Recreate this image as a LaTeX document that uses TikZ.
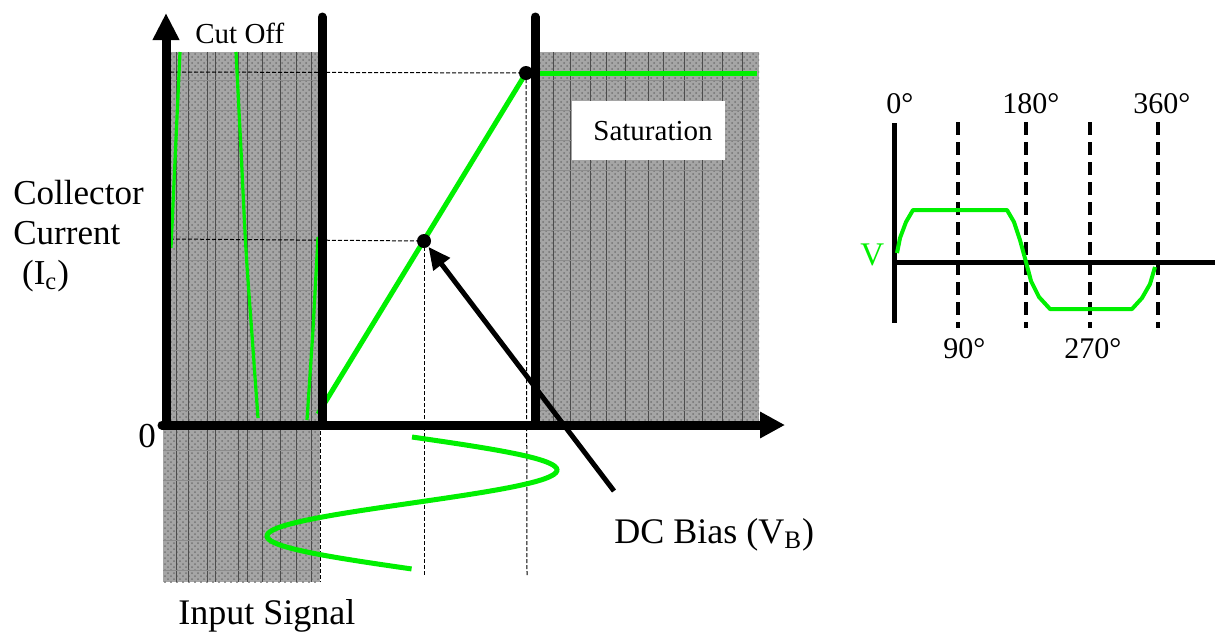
\documentclass[tikz,border=0pt]{standalone}
\usepackage{fontspec}
\setmainfont{Liberation Serif}
\usetikzlibrary{arrows.meta,patterns}
\definecolor{sig}{RGB}{0,240,0}
\definecolor{shade}{RGB}{165,165,165}
\begin{document}
\begin{tikzpicture}[x=0.5pt,y=-0.5pt,
  region/.style={fill=shade, draw=none},
  speckle/.style={pattern=crosshatch dots, pattern color=black!55},
  texture/.style={black!70, line width=0.25pt},
  hline/.style={black!45, line width=0.2pt},
  thick axis/.style={line width=4.5pt, line cap=round},
  guide/.style={line width=0.5pt, dash pattern=on 2pt off 1pt},
  greenline/.style={sig, line width=2.5pt},
  thin green/.style={sig, line width=1.6pt},
  dot/.style={circle, fill=black, inner sep=0pt, minimum size=7pt},
  lbl/.style={inner sep=0pt, anchor=base west, font=\fontsize{17.5pt}{20pt}\selectfont},
  vlbl/.style={inner sep=0pt, anchor=base west, font=\fontsize{16.5pt}{20pt}\selectfont},
  biglbl/.style={inner sep=0pt, anchor=base west, font=\fontsize{18pt}{22pt}\selectfont},
  boxlbl/.style={inner sep=0pt, anchor=base west, font=\fontsize{14.5pt}{17pt}\selectfont},
  deg/.style={inner sep=0pt, anchor=base west, font=\fontsize{15pt}{18pt}\selectfont},
  phase/.style={line width=2.25pt, dash pattern=on 6.5pt off 3.5pt},
  raxis/.style={line width=2.5pt}]
\useasboundingbox (0,0) rectangle (1215,633);
\fill[white] (0,0) rectangle (1215,633);

% shaded regions
\fill[region] (168,52) rectangle (320,425);
\fill[region] (163,425) rectangle (320,582);
\fill[region] (538,52) rectangle (759,425);
\fill[speckle] (168,52) rectangle (320,425);
\fill[speckle] (163,425) rectangle (320,582);
\fill[speckle] (538,52) rectangle (759,425);
\foreach \xx in {176,188,207,215,238,247,262,280,296,311} {\draw[texture] (\xx,52) -- (\xx,582);}
\foreach \xx in {553,570,590,606,625,648,663,684,702,722,742} {\draw[texture] (\xx,52) -- (\xx,425);}
\foreach \yy in {80,110,140,170,200,230,260,290,320,350,380,410} {\draw[hline] (168,\yy) -- (320,\yy); \draw[hline] (538,\yy) -- (759,\yy);}
\foreach \yy in {450,480,510,540,570} {\draw[hline] (163,\yy) -- (320,\yy);}

% saturation label box
\fill[white] (572,101) rectangle (725,160);
\node[boxlbl] (sat) at (593,140) {Saturation};
\node[boxlbl] (cutoff) at (195,43) {Cut Off};

% key points
\coordinate (origin) at (166,425);
\coordinate (ytip) at (166,13);
\coordinate (xtip) at (785,425);
\coordinate (xstart) at (162,425);
\coordinate (satpt) at (526,73);
\coordinate (bias) at (424,241);
\coordinate (hA) at (170,72);
\coordinate (hB) at (170,239);
\coordinate (vA) at (527,575);
\coordinate (vB) at (424,575);
\coordinate (vC0) at (320,425);
\coordinate (vC1) at (320,582);

% dashed guides
\draw[guide] (hA) -- (satpt);
\draw[guide] (hB) -- (bias);
\draw[guide] (satpt) -- (vA);
\draw[guide] (bias) -- (vB);
\draw[guide] (vC0) -- (vC1);

% green transfer characteristic
\coordinate (kneeLow) at (318,414);
\draw[greenline] (kneeLow) -- (satpt);
\coordinate (satEnd) at (757,73);
\draw[greenline] (satpt) -- (satEnd);
\coordinate (cutA) at (172,423);
\coordinate (cutB) at (313,423);
\draw[greenline] (cutA) -- (cutB);

% clipped output in cut-off region
\draw[thin green] (180,52) -- (171,248);
\draw[thin green] plot[smooth] coordinates {(236,52) (241,150) (246,250) (252,335) (258,418)};
\draw[thin green] (318,237) -- (313,330) -- (307,420);

% input signal
\draw[greenline] plot[domain=0:1, samples=90, smooth] ({412+145*sin(360*\x)}, {437+132*\x});

% axes and boundaries
\draw[thick axis] (322,17) -- (322,425);
\draw[thick axis] (535,17) -- (535,425);
\draw[line width=4.5pt, -{Triangle[length=13.5pt,width=12.5pt]}] (origin) -- (ytip);
\draw[line width=4.5pt, line cap=round, -{Triangle[length=12.5pt,width=12.5pt]}] (xstart) -- (xtip);

% operating points
\node[dot] (satdot) at (satpt) {};
\node[dot] (biasdot) at (bias) {};

% DC bias arrow
\coordinate (btail) at (614,491);
\draw[line width=2.5pt, -{Triangle[length=11pt,width=10pt]}] (btail) -- (biasdot);

% labels
\node[lbl, align=left, anchor=north west] (yl) at (13,180) {Collector\\Current\\~(I\textsubscript{c})};
\node[lbl] (zero) at (138,447) {0};
\node[biglbl] (dcb) at (614,543) {DC Bias (V\textsubscript{B})};
\node[biglbl] (inp) at (178,624) {Input Signal};

% right panel
\coordinate (rv0) at (894,123);
\coordinate (rv1) at (894,323);
\coordinate (rh0) at (894,262);
\coordinate (rh1) at (1215,262);
\foreach \xx in {958,1026,1090,1158} {\draw[phase] (\xx,122) -- (\xx,328);}
\draw[raxis] (rv0) -- (rv1);
\draw[raxis] (rh0) -- (rh1);
\draw[sig, line width=2pt, line join=round] (897,253) -- (900,238) -- (906,222) -- (913,210) -- (1007,210) -- (1014,222) -- (1020,240) -- (1026,262) -- (1031,281) -- (1039,297) -- (1050,309) -- (1132,309) -- (1142,298) -- (1150,284) -- (1155,267);
\node[deg] (d0) at (886,113) {0°};
\node[deg] (d180) at (1002,113) {180°};
\node[deg] (d360) at (1133,113) {360°};
\node[deg] (d90) at (943,358) {90°};
\node[deg] (d270) at (1064,358) {270°};
\node[vlbl, text=sig] (vl) at (860,265) {V};
\end{tikzpicture}
\end{document}
